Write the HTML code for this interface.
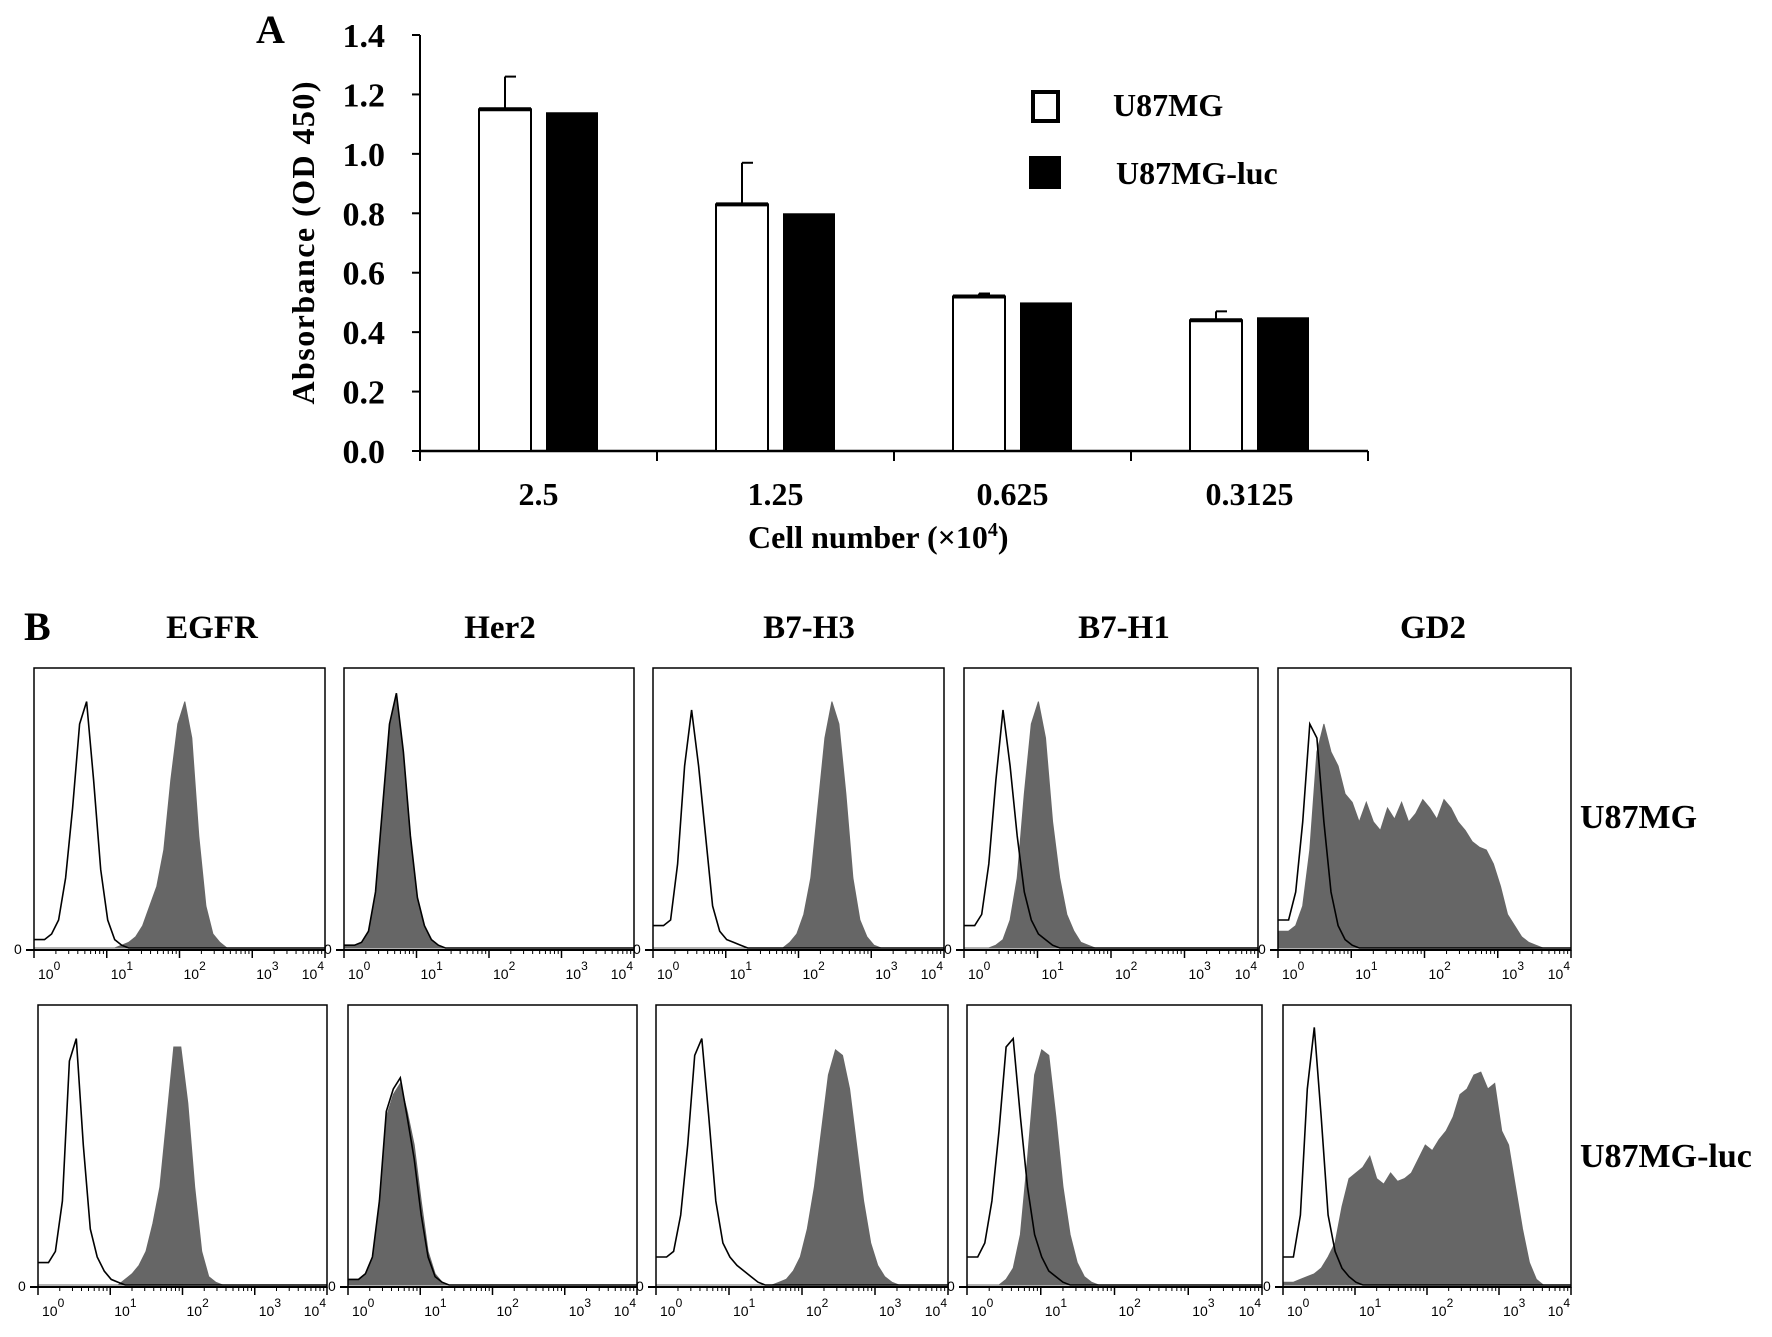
<!DOCTYPE html>
<html><head><meta charset="utf-8">
<style>
html,body{margin:0;padding:0;background:#fff;}
svg{display:block;font-family:"Liberation Serif",serif;}
</style></head>
<body>
<svg id="fig" width="1772" height="1337" viewBox="0 0 1772 1337">
<text x="256" y="43" font-size="40" font-weight="bold">A</text>
<g id="chartA"></g>
<text x="24" y="640" font-size="40" font-weight="bold">B</text>
<g id="flow"></g>
</svg>
<script>
const NS="http://www.w3.org/2000/svg";
function mk(tag,attrs,parent,text){const e=document.createElementNS(NS,tag);for(const k in attrs)e.setAttribute(k,attrs[k]);if(text!==undefined)e.textContent=text;parent.appendChild(e);return e;}

// ---------- Panel A data ----------
const categories=["2.5","1.25","0.625","0.3125"];
const u87Values=[1.15,0.83,0.52,0.44];
const u87ErrTop=[1.26,0.97,0.53,0.47];
const lucValues=[1.14,0.80,0.50,0.45];
const yTicks=[0,0.2,0.4,0.6,0.8,1.0,1.2,1.4];

// ---------- Panel B data (heights % of box; channel bins starting at binStart decades, binWidth decades each) ----------
const binStart=0.145, binWidth=0.0964;
const markers=["EGFR","Her2","B7-H3","B7-H1","GD2"];
const rowLabels=["U87MG","U87MG-luc"];
const openR1=[
[3,5,10,25,50,80,88,60,28,10,3,1],
[1,2,6,20,50,80,91,70,40,18,8,3,1],
[8,10,30,65,85,65,40,15,6,3,2,1],
[8,12,30,60,85,65,40,20,10,5,3,1],
[10,20,45,80,75,45,20,8,3,1]];
const fillR1=[
[0,0,0,0,0,0,0,0,0,0,0,1,2,4,8,15,22,35,60,80,88,75,40,15,5,2],
[1,2,6,20,50,80,90,70,40,18,8,3,1],
[0,0,0,0,0,0,0,0,0,0,0,0,0,0,0,0,0,0,2,5,12,25,50,75,88,80,55,25,10,4,1],
[0,0,0,1,3,10,25,55,80,88,75,45,25,12,6,2,1],
[6,8,15,35,70,80,70,65,55,52,45,52,45,42,50,46,52,45,48,53,50,46,53,50,45,42,38,36,35,30,22,12,8,4,2,1]];
const openR2=[
[8,12,30,80,88,50,20,10,5,2,1],
[2,4,10,30,62,70,74,60,45,25,10,3,1],
[10,12,25,50,82,88,60,30,15,10,7,5,3,1],
[10,15,30,55,85,88,60,35,18,10,5,3,1],
[10,25,70,92,60,25,12,6,3,1]];
const fillR2=[
[0,0,0,0,0,0,0,0,0,0,0,2,4,7,12,22,35,60,85,85,65,35,12,3,1],
[2,4,10,30,60,68,72,62,50,30,12,4,1],
[0,0,0,0,0,0,0,0,0,0,0,0,0,0,0,0,1,2,5,10,20,35,55,75,84,82,70,50,30,15,7,3,1],
[0,0,0,0,2,6,18,45,75,84,82,60,35,18,8,3,1],
[1,2,3,4,6,10,15,28,38,40,42,46,38,36,40,37,38,40,45,50,48,52,55,60,68,70,75,76,70,72,55,50,35,20,8,2]];
const decadeLabels=["0","1","2","3","4"];

// ---------- Draw Panel A ----------
(function(){
const g=document.getElementById('chartA');
const x0=420,x1=1368,yb=451,yt=35,ymax=1.4;
const ys=v=>yb-(v/ymax)*(yb-yt);
const gw=(x1-x0)/categories.length;
const bw=52,gap=15;
const ya=mk('line',{x1:x0,y1:yt,x2:x0,y2:yb,stroke:'#000','stroke-width':2},g);

const xa=mk('line',{x1:x0,y1:yb,x2:x1,y2:yb,stroke:'#000','stroke-width':2.5},g);

yTicks.forEach(t=>{
 const y=ys(t);
 mk('line',{x1:x0-8,y1:y,x2:x0,y2:y,stroke:'#000','stroke-width':2},g);
 const tx=mk('text',{x:385,y:y+12,'font-size':34,'font-weight':'bold','text-anchor':'end'},g,t.toFixed(1));
 
 
});
for(let i=0;i<=categories.length;i++){const x=x0+i*gw;mk('line',{x1:x,y1:yb,x2:x,y2:yb+10,stroke:'#000','stroke-width':2},g);}
categories.forEach((c,i)=>{
 const cx=x0+(i+0.5)*gw;
 const wx=cx-gap/2-bw, bx=cx+gap/2;
 const eb=mk('line',{x1:wx+bw/2,y1:ys(u87ErrTop[i]),x2:wx+bw/2,y2:ys(u87Values[i]),stroke:'#000','stroke-width':2},g);
 
 
 mk('line',{x1:wx+bw/2,y1:ys(u87ErrTop[i]),x2:wx+bw/2+11,y2:ys(u87ErrTop[i]),stroke:'#000','stroke-width':2},g);
 const r1=mk('rect',{x:wx,y:ys(u87Values[i]),width:bw,height:yb-ys(u87Values[i]),fill:'#fff',stroke:'#000','stroke-width':2},g);
 
 
 mk('line',{x1:wx,y1:ys(u87Values[i]),x2:wx+bw,y2:ys(u87Values[i]),stroke:'#000','stroke-width':4},g);
 const r2=mk('rect',{x:bx,y:ys(lucValues[i]),width:bw,height:yb-ys(lucValues[i]),fill:'#000'},g);
 
 
 const tl=mk('text',{x:cx,y:505,'font-size':32,'font-weight':'bold','text-anchor':'middle'},g,c);
 
 
});
const yt2=mk('text',{x:0,y:0,'font-size':32,'font-weight':'bold','text-anchor':'middle',textLength:323,lengthAdjust:'spacing',transform:'translate(314,243) rotate(-90)'},g,'Absorbance  (OD 450)');


const xt=mk('text',{x:748,y:548,'font-size':32,'font-weight':'bold'},g);


xt.innerHTML='Cell number  (×10<tspan dy="-12" font-size="20">4</tspan><tspan dy="12">)</tspan>';
const l1=mk('rect',{x:1033,y:92,width:25,height:29,fill:'#fff',stroke:'#000','stroke-width':4},g);


const lt1=mk('text',{x:1113,y:116,'font-size':32,'font-weight':'bold'},g,'U87MG');


const l2=mk('rect',{x:1029,y:156,width:32,height:33,fill:'#000'},g);


const lt2=mk('text',{x:1116,y:184,'font-size':32,'font-weight':'bold'},g,'U87MG-luc');


})();

// ---------- Draw Panel B ----------
(function(){
const g=document.getElementById('flow');
const titleX=[212,500,809,1124,1433];
markers.forEach((m,i)=>{
 const t=mk('text',{x:titleX[i],y:638,'font-size':33,'font-weight':'bold','text-anchor':'middle'},g,m);
 
 
});
const rowBoxes=[
 {y0:668,y1:950,xs:[[34,325],[344,634],[653,944],[964,1258],[1278,1571]]},
 {y0:1005,y1:1287,xs:[[38,327],[348,637],[656,948],[967,1262],[1283,1571]]}];
const openData=[openR1,openR2], fillData=[fillR1,fillR2];
const rowLabelY=[828,1167];
rowLabels.forEach((r,i)=>{
 const t=mk('text',{x:1580,y:rowLabelY[i],'font-size':34,'font-weight':'bold'},g,r);
 
 
});
const dmin=0,dmax=4;
function pathFor(arr,xs,ys,closed){
 let pts=[];
 pts.push([xs(dmin),ys(arr[0]||0)]);
 for(let k=0;k<=40;k++){const v=k<arr.length?arr[k]:0;const d=binStart+k*binWidth;if(d<=dmax)pts.push([xs(d),ys(v)]);}
 pts.push([xs(dmax),ys(0)]);
 let d='M'+pts.map(p=>p[0].toFixed(1)+','+p[1].toFixed(1)).join(' L');
 if(closed)d+=` L${xs(dmin)},${ys(0)} Z`;
 return d;
}
rowBoxes.forEach((rb,r)=>{
 rb.xs.forEach((bx,c)=>{
  const [x0,x1]=bx,y0=rb.y0,y1=rb.y1;
  const xs=d=>x0+(d-dmin)/(dmax-dmin)*(x1-x0);
  const ys=v=>y1-2-(v/100)*(y1-y0-2);
  const pg=mk('g',{},g);
  
  
  const f=mk('path',{d:pathFor(fillData[r][c],xs,ys,true),fill:'#666',stroke:'#666','stroke-width':1},pg);
  
  
  const o=mk('path',{d:pathFor(openData[r][c],xs,ys,false),fill:'none',stroke:'#000','stroke-width':1.6},pg);
  
  
  mk('rect',{x:x0,y:y0,width:x1-x0,height:y1-y0,fill:'none',stroke:'#000','stroke-width':1.5},pg);
  mk('line',{x1:x0-8,y1:y1,x2:x1,y2:y1,stroke:'#000','stroke-width':2},pg);
  mk('text',{x:x0-20,y:y1+4,'font-size':14,'font-family':'Liberation Sans, sans-serif'},pg,'0');
  for(let dd=0;dd<=4;dd++){
   const tx=xs(dd);
   mk('line',{x1:tx,y1:y1,x2:tx,y2:y1+8,stroke:'#000','stroke-width':1.5},pg);
   if(dd<4)for(let m=2;m<=9;m++){const mx=xs(dd+Math.log10(m));mk('line',{x1:mx,y1:y1,x2:mx,y2:y1+4,stroke:'#000','stroke-width':1},pg);}
   const lab=mk('text',{x:dd===4?tx-1:tx+4,y:y1+29,'font-size':14,'text-anchor':dd===4?'end':'start','font-family':'Liberation Sans, sans-serif'},pg);
   
   
   lab.innerHTML='10<tspan dy="-9" font-size="12">'+decadeLabels[dd]+'</tspan>';
  }
 });
});
})();
</script>
</body></html>
